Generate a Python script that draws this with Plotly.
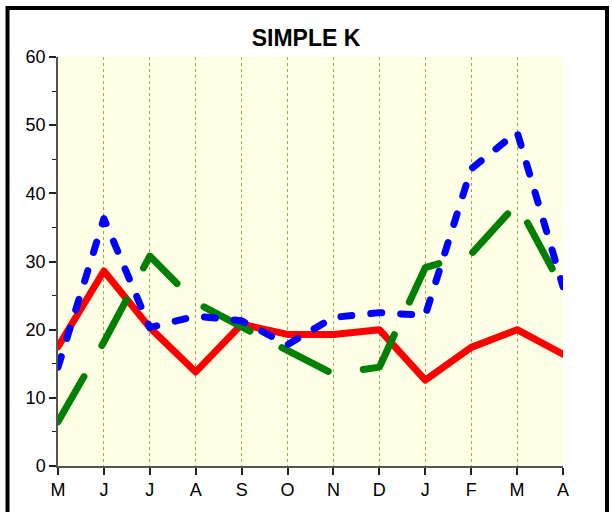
import plotly.graph_objects as go

months = ["M", "J", "J", "A", "S", "O", "N", "D", "J", "F", "M", "A"]
red_vals = [17.5, 28.6, 20.3, 13.8, 20.8, 19.3, 19.3, 20.0, 12.6, 17.4, 20.0, 16.4]
green_vals = [6.5, 18.2, 30.8, 24.0, 20.4, 17.0, 13.5, 14.5, 29.1, 31.1, 38.5, 26.0]
blue_vals = [14.5, 36.3, 20.3, 22.0, 21.3, 17.8, 21.8, 22.5, 22.1, 43.6, 49.0, 26.3]
y_ticks = [0, 10, 20, 30, 40, 50, 60]

xs = list(range(len(months)))
font_family = "Liberation Sans, Arial, sans-serif"

fig = go.Figure()
fig.add_trace(go.Scatter(x=xs, y=red_vals, mode="lines",
                         line=dict(color="#ff0000", width=7), showlegend=False))
fig.add_trace(go.Scatter(x=xs, y=green_vals, mode="lines",
                         line=dict(color="#008000", width=7, dash="52px,36px"), showlegend=False))
fig.add_trace(go.Scatter(x=xs, y=blue_vals, mode="lines",
                         line=dict(color="#0000ff", width=7, dash="11px,19px"), showlegend=False))

fig.update_layout(
    width=612, height=512,
    margin=dict(l=58, r=49, t=57, b=42),
    paper_bgcolor="white",
    plot_bgcolor="#ffffe6",
    title=dict(text="<b>SIMPLE K</b>", x=0.5, xanchor="center", y=1 - 38 / 512,
               yanchor="middle", yref="container",
               font=dict(family=font_family, size=23, color="black")),
    font=dict(family=font_family, size=18, color="black"),
    xaxis=dict(range=[0, 11], tickvals=xs, ticktext=months, showgrid=True,
               gridcolor="#a3a352", griddash="dot", gridwidth=1,
               showline=True, linecolor="#555555", linewidth=1.5,
               ticks="outside", ticklen=7, tickcolor="#222222", tickwidth=1.5,
               zeroline=False, fixedrange=True),
    yaxis=dict(range=[0, 60], tickvals=y_ticks, showgrid=False,
               showline=True, linecolor="#555555", linewidth=1.5,
               ticks="outside", ticklen=7, tickcolor="#222222", tickwidth=1.5,
               minor=dict(dtick=5, ticks="outside", ticklen=4, tickcolor="#222222", tickwidth=1),
               zeroline=False, fixedrange=True),
    shapes=[dict(type="rect", xref="paper", yref="paper",
                 x0=(7.5 - 58) / 505, x1=(607 - 58) / 505,
                 y0=-0.2, y1=(470 - 7.5) / 413,
                 line=dict(color="black", width=4), fillcolor="rgba(0,0,0,0)", layer="above")],
)

post = """
document.body.style.margin = '0';
var s = document.createElement('style');
s.innerHTML = 'path.js-line{stroke-linecap:round !important;stroke-linejoin:round !important;} body{margin:0 !important;}';
document.head.appendChild(s);
"""
fig.write_html("out.html", post_script=post, config={"displayModeBar": False})
